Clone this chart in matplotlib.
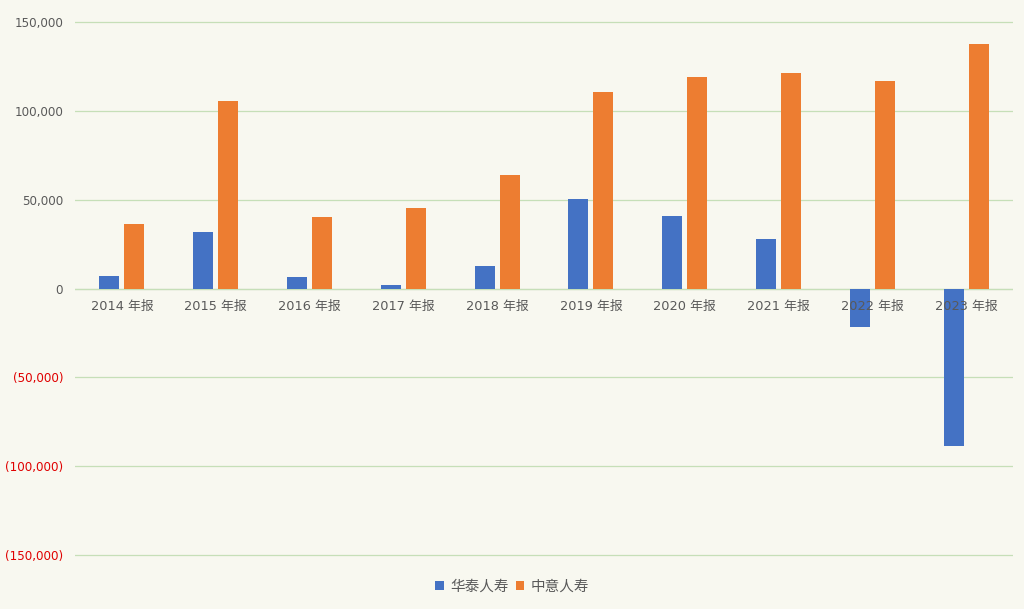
import numpy as np
import matplotlib
matplotlib.use('Agg')
import matplotlib.pyplot as plt
from matplotlib.ticker import FuncFormatter

plt.rcParams['font.family'] = ['DejaVu Sans', 'Noto Sans CJK SC']

# data
years = ['2014 年报', '2015 年报', '2016 年报', '2017 年报', '2018 年报',
         '2019 年报', '2020 年报', '2021 年报', '2022 年报', '2023 年报']
huatai = [7300, 32000, 6700, 1700, 12900, 50600, 41000, 28100, -21900, -88800]
zhongyi = [36500, 105600, 40400, 45500, 64000, 110700, 119100, 121300, 116900, 137600]
series_names = ['华泰人寿', '中意人寿']

bg = '#f8f8f0'
blue = '#4472c4'
orange = '#ed7d31'

fig = plt.figure(figsize=(10.24, 6.09), dpi=100, facecolor=bg)
# axes spans +-151000 so the outer gridlines are not clipped
ax = fig.add_axes([75/1024, 1-556.8/609, (1013-75)/1024, (556.8-20.2)/609])
ax.set_facecolor(bg)

x = np.arange(len(years))
w = 0.213
off = 0.133
ax.bar(x - off, huatai, w, color=blue, label=series_names[0], zorder=2)
ax.bar(x + off, zhongyi, w, color=orange, label=series_names[1], zorder=2)

ax.set_xlim(-0.5, len(years) - 0.5)
ax.set_ylim(-151000, 151000)
ax.set_yticks(np.arange(-150000, 150001, 50000))

def fmt(v, pos):
    if v < 0:
        return '({:,.0f})'.format(-v)
    return '{:,.0f}'.format(v)

ax.yaxis.set_major_formatter(FuncFormatter(fmt))
ax.tick_params(axis='y', length=0, labelsize=8.6, labelcolor='#595959', pad=8.5)
for lab, v in zip(ax.get_yticklabels(), ax.get_yticks()):
    if v < 0:
        lab.set_color('#e00000')

ax.grid(axis='y', color='#c6dfb8', linewidth=0.9, zorder=0)
ax.axhline(0, color='#d0d8c8', linewidth=0.9, zorder=1)
for s in ax.spines.values():
    s.set_visible(False)

# category labels just below zero line
ax.set_xticks([])
for xi, lab in zip(x, years):
    ax.text(xi, -10300, lab, ha='center', va='center', fontsize=9.3,
            color='#595959', zorder=3)

leg = fig.legend(loc='center', bbox_to_anchor=(0.5, 1-586/609), ncol=2, frameon=False,
                 fontsize=10.5, handlelength=0.6, handleheight=0.6,
                 handletextpad=0.4, columnspacing=0.5, labelcolor='#595959')

fig.savefig('out.png', dpi=100, facecolor=bg)
